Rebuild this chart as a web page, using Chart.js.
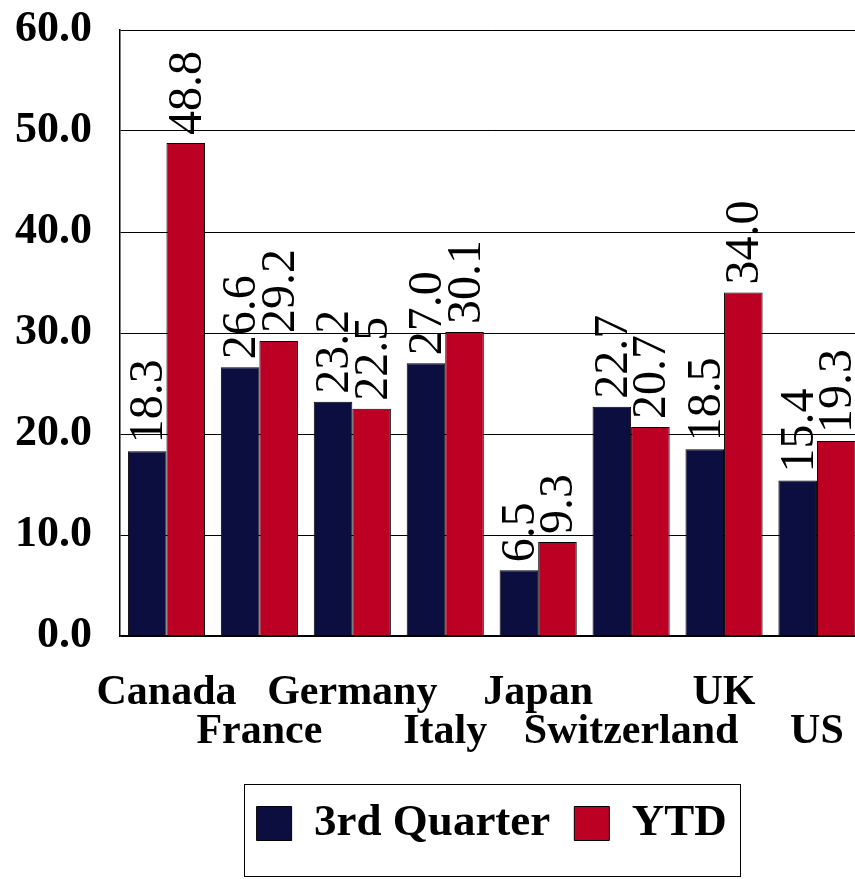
<!DOCTYPE html>
<html>
<head>
<meta charset="utf-8">
<script src="https://cdn.jsdelivr.net/npm/chart.js@4/dist/chart.umd.min.js"></script>
<style>
    html, body { margin: 0; padding: 0; background: #fff; overflow: hidden; }
    #wrap { width: 874px; height: 879px; }
</style>
</head>
<body>
<div id="wrap"><canvas id="chartCanvas" width="874" height="879"></canvas></div>
<script>
const countries = ['Canada', 'France', 'Germany', 'Italy', 'Japan', 'Switzerland', 'UK', 'US'];
const thirdQuarter = [18.3, 26.6, 23.2, 27.0, 6.5, 22.7, 18.5, 15.4];
const ytd = [48.8, 29.2, 22.5, 30.1, 9.3, 20.7, 34.0, 19.3];
const yTicks = [0, 10, 20, 30, 40, 50, 60];

const serif = "'Liberation Serif', 'Times New Roman', serif";

// put every second country name on a lower line
const xLabels = countries.map((name, i) => i % 2 === 0 ? [name] : ['', name]);

const valueLabels = {
    id: 'valueLabels',
    afterDatasetsDraw(chart) {
        const ctx = chart.ctx;
        ctx.save();
        ctx.font = '48px ' + serif;
        ctx.fillStyle = '#000';
        ctx.textAlign = 'left';
        ctx.textBaseline = 'alphabetic';
        chart.data.datasets.forEach((ds, di) => {
            chart.getDatasetMeta(di).data.forEach((bar, i) => {
                ctx.save();
                ctx.translate(bar.x + 15, bar.y - 8);
                ctx.rotate(-Math.PI / 2);
                ctx.fillText(ds.data[i].toFixed(1), 0, 0);
                ctx.restore();
            });
        });
        ctx.restore();
    }
};

const legendBorder = {
    id: 'legendBorder',
    afterDraw(chart) {
        const boxes = chart.legend.legendHitBoxes;
        if (!boxes || !boxes.length) return;
        const first = boxes[0];
        const last = boxes[boxes.length - 1];
        const mid = first.top + first.height / 2;
        const ctx = chart.ctx;
        ctx.save();
        ctx.strokeStyle = '#000';
        ctx.lineWidth = 1;
        ctx.strokeRect(Math.round(first.left - 13) + 0.5, Math.round(mid - 40) + 0.5,
            Math.round(last.left + last.width - first.left + 26), 92);
        ctx.restore();
    }
};

new Chart(document.getElementById('chartCanvas').getContext('2d'), {
    type: 'bar',
    data: {
        labels: xLabels,
        datasets: [{
            label: '3rd Quarter',
            data: thirdQuarter,
            backgroundColor: '#0b0e3f',
            borderColor: '#000',
            borderWidth: 1
        }, {
            label: 'YTD',
            data: ytd,
            backgroundColor: '#bb0024',
            borderColor: '#000',
            borderWidth: 1
        }]
    },
    options: {
        responsive: false,
        animation: false,
        layout: { padding: { top: 30, right: 3, bottom: 23, left: 0 } },
        datasets: { bar: { categoryPercentage: 0.83, barPercentage: 1.0 } },
        scales: {
            x: {
                grid: { display: false },
                border: { color: '#000', width: 1.5 },
                ticks: {
                    autoSkip: false,
                    maxRotation: 0,
                    padding: 30,
                    color: '#000',
                    font: { family: serif, size: 42, weight: 'bold', lineHeight: '39px' }
                },
                afterFit(scale) { scale.height = 141; }
            },
            y: {
                min: 0,
                max: 60,
                afterBuildTicks(scale) { scale.ticks = yTicks.map(v => ({ value: v })); },
                grid: { color: '#000', lineWidth: 1, drawTicks: false },
                border: { color: '#000', width: 1.5 },
                ticks: {
                    padding: 28,
                    color: '#000',
                    font: { family: serif, size: 44, weight: 'bold', lineHeight: '4px' },
                    callback: v => v.toFixed(1)
                },
                afterFit(scale) { scale.width = 120; }
            }
        },
        plugins: {
            legend: {
                position: 'bottom',
                fullSize: false,
                labels: {
                    boxWidth: 35,
                    boxHeight: 34,
                    padding: 24,
                    color: '#000',
                    font: { family: serif, size: 45, weight: 'bold' }
                }
            },
            tooltip: { enabled: false }
        }
    },
    plugins: [valueLabels, legendBorder]
});
</script>
</body>
</html>
